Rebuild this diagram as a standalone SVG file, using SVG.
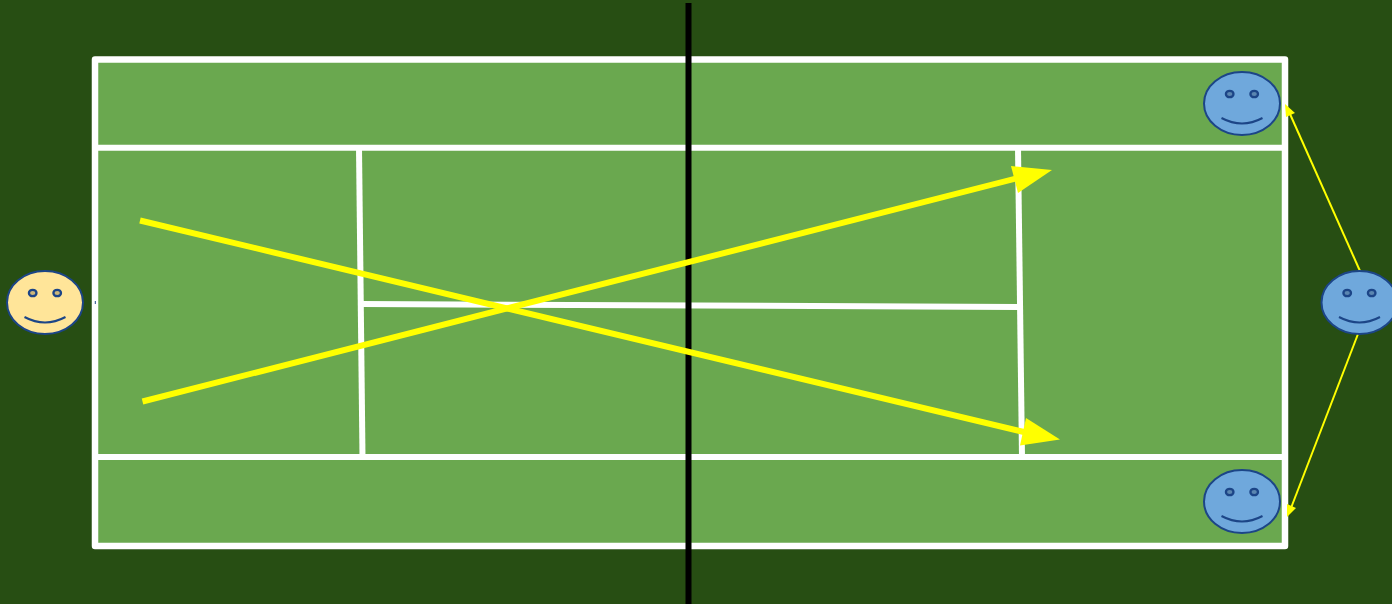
<svg xmlns="http://www.w3.org/2000/svg" width="1392" height="604" viewBox="0 0 1392 604">
  <style>
    .court { fill: none; stroke: #ffffff; stroke-linejoin: round; }
    .shot { stroke: #ffff00; stroke-width: 6; fill: none; }
    .move { stroke: #ffff00; stroke-width: 2; fill: none; }
    .head { fill: #ffff00; }
    .face { stroke: #1c4587; stroke-width: 2; }
    .eye { stroke: #1c4587; stroke-width: 2.300; }
    .smile { fill: none; stroke: #1c4587; stroke-width: 2; }
    .blue { fill: #6fa8dc; }
    .blue-eye { fill: #5b86b0; }
    .yellow { fill: #ffe599; }
    .yellow-eye { fill: #ccb77a; }
  </style>
  <defs>
    <g id="features">
      <path class="smile" d="M-20.500 14.500 Q0 25.500 20.500 14.500"/>
    </g>
  </defs>
  <rect width="1392" height="604" fill="#274e13"/>
  <g id="court">
    <rect x="95" y="59.500" width="1190" height="486.500" fill="#6aa84f"/>
    <rect class="court" x="95" y="59.500" width="1190" height="486.500" stroke-width="6.500"/>
    <line class="court" x1="95" y1="147.800" x2="1285" y2="147.800" stroke-width="6"/>
    <line class="court" x1="95" y1="457" x2="1285" y2="457" stroke-width="6"/>
    <line class="court" x1="359" y1="148" x2="362.500" y2="457" stroke-width="6"/>
    <line class="court" x1="1018" y1="148" x2="1022" y2="457" stroke-width="6"/>
    <line class="court" x1="361" y1="304" x2="1020" y2="307" stroke-width="6"/>
  </g>
  <g id="net">
    <rect x="685.500" y="3" width="6" height="601" fill="#000000"/>
  </g>
  <g id="connectors">
    <line class="shot" x1="140" y1="220.500" x2="1028" y2="433"/>
    <polygon class="head" points="1060,439.500 1026,418 1020,445.500"/>
    <line class="shot" x1="142.500" y1="401.500" x2="1020" y2="177.500"/>
    <polygon class="head" points="1052,170 1011,166 1018,193"/>
    <line class="move" x1="1360" y1="271" x2="1290" y2="114"/>
    <polygon class="head" points="1285,104 1286,117 1295,113"/>
    <line class="move" x1="1358" y1="334" x2="1291" y2="508"/>
    <polygon class="head" points="1287,517 1287,504 1296,508"/>
    <line x1="95.300" y1="301" x2="95.300" y2="304" stroke="#1c4587" stroke-width="1"/>
  </g>
  <g id="player-left">
    <ellipse class="face yellow" cx="45" cy="302.500" rx="38" ry="31.500"/>
    <ellipse class="eye yellow-eye" cx="32.700" cy="293" rx="3.800" ry="3.200"/>
    <ellipse class="eye yellow-eye" cx="57.200" cy="293" rx="3.800" ry="3.200"/>
    <use href="#features" x="45" y="302.500"/>
  </g>
  <g id="player-top-right">
    <ellipse class="face blue" cx="1242" cy="103.500" rx="38" ry="31.500"/>
    <ellipse class="eye blue-eye" cx="1229.700" cy="94" rx="3.800" ry="3.200"/>
    <ellipse class="eye blue-eye" cx="1254.200" cy="94" rx="3.800" ry="3.200"/>
    <use href="#features" x="1242" y="103.500"/>
  </g>
  <g id="player-bottom-right">
    <ellipse class="face blue" cx="1242" cy="501.500" rx="38" ry="31.500"/>
    <ellipse class="eye blue-eye" cx="1229.700" cy="492" rx="3.800" ry="3.200"/>
    <ellipse class="eye blue-eye" cx="1254.200" cy="492" rx="3.800" ry="3.200"/>
    <use href="#features" x="1242" y="501.500"/>
  </g>
  <g id="player-right">
    <ellipse class="face blue" cx="1359.500" cy="302.500" rx="38" ry="31.500"/>
    <ellipse class="eye blue-eye" cx="1347.200" cy="293" rx="3.800" ry="3.200"/>
    <ellipse class="eye blue-eye" cx="1371.700" cy="293" rx="3.800" ry="3.200"/>
    <use href="#features" x="1359.500" y="302.500"/>
  </g>
</svg>
